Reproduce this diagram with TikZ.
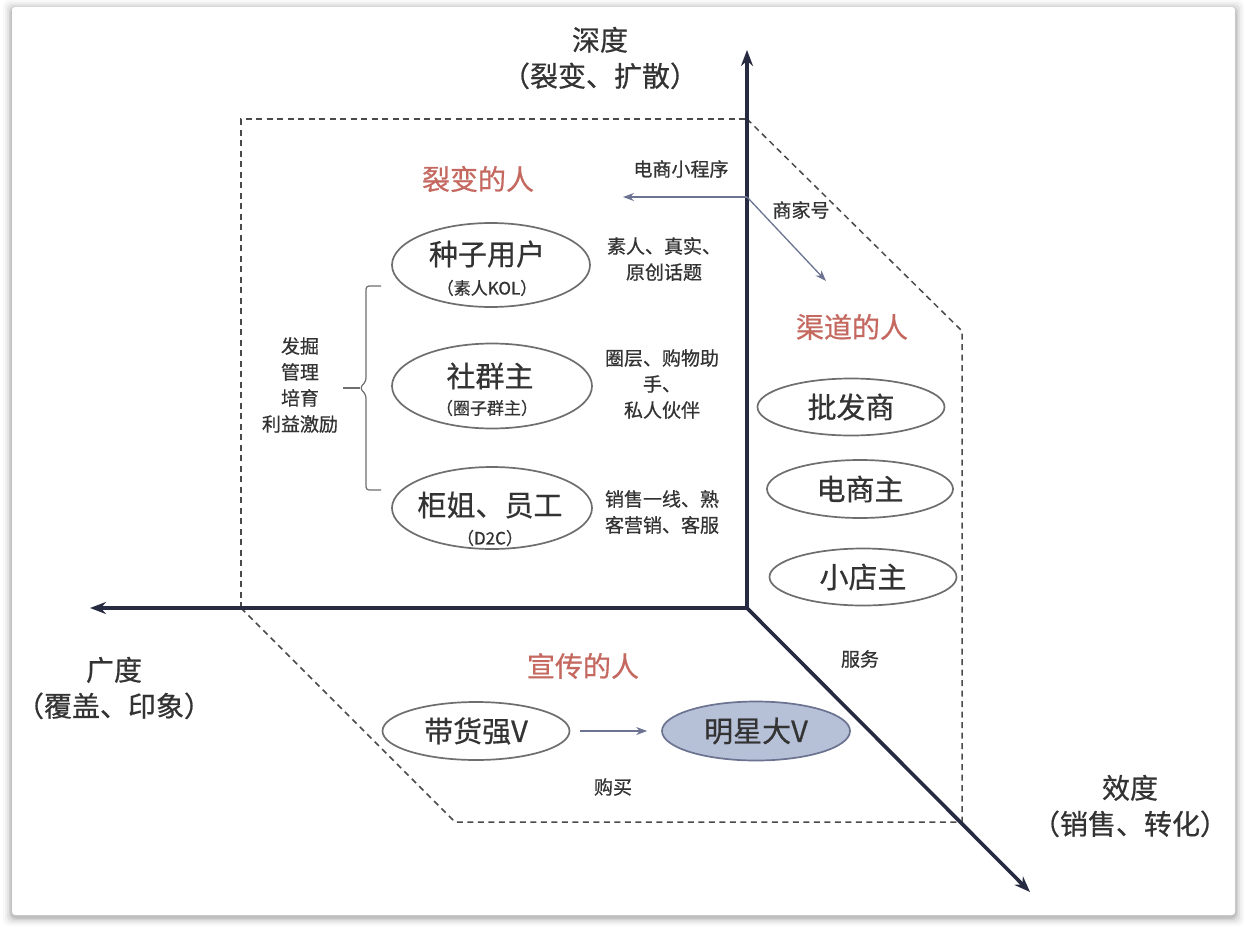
\documentclass[tikz,border=0pt]{standalone}
\usepackage{fontspec}
\setmainfont{Noto Sans CJK SC}
\newfontfamily\medfont{Noto Sans CJK SC}[FakeBold=0.6]
\usetikzlibrary{arrows.meta}
\definecolor{axiscol}{HTML}{272B42}
\definecolor{titlecol}{RGB}{196,104,96}
\definecolor{txtcol}{HTML}{333333}
\definecolor{ovalcol}{HTML}{6E6E6E}
\definecolor{dashcol}{HTML}{4A4A4A}
\definecolor{thincol}{HTML}{6B7390}
\definecolor{starfill}{HTML}{B6C1D8}
\tikzset{
  axisline/.style={draw=axiscol, line width=3.6pt, -{Stealth[length=16pt,width=12pt]}},
  dashline/.style={draw=dashcol, line width=1.5pt, dash pattern=on 6pt off 4.5pt},
  oval/.style={ellipse, draw=ovalcol, line width=1.7pt, inner sep=0pt},
  bigtxt/.style={text=txtcol, font=\medfont\fontsize{29}{31}\selectfont, inner sep=0pt},
  subtxt/.style={text=txtcol, font=\medfont\fontsize{17}{18}\selectfont, inner sep=0pt},
  smalltxt/.style={text=txtcol, font=\medfont\fontsize{19}{26}\selectfont, align=center, inner sep=0pt},
  titletxt/.style={text=titlecol, font=\medfont\fontsize{28}{30}\selectfont, inner sep=0pt},
  axistxt/.style={text=txtcol, font=\medfont\fontsize{28}{36}\selectfont, align=center, inner sep=0pt},
  thinarrow/.style={draw=thincol, line width=1.3pt, -{Stealth[length=11pt,width=8pt]}},
}
\usetikzlibrary{shapes.geometric}
\begin{document}
\begin{tikzpicture}[x=1pt,y=-1pt]
\useasboundingbox (0,0) rectangle (1247,934);
\fill[white] (0,0) rectangle (1247,934);
% card shadow
\foreach \d/\o in {9/0.025,7/0.035,5/0.05,3/0.07,1.5/0.09}{
  \fill[black, opacity=\o, rounded corners=6pt] (12-\d,7-\d+2) rectangle (1235+\d,915+\d+2);
}
\fill[white, rounded corners=3pt] (12,7) rectangle (1235,915);

% coordinates
\coordinate (O) at (747,608);
\coordinate (ytip) at (747,50);
\coordinate (xtip) at (90,608);
\coordinate (ztip) at (1030,892);
\coordinate (boxTL) at (241,119);
\coordinate (boxTR) at (747,119);
\coordinate (boxBL) at (241,608);
\coordinate (rA) at (962,331);
\coordinate (rB) at (962,822);
\coordinate (bA) at (455,822);

% dashed planes
\draw[dashline] (boxBL) -- (boxTL) -- (boxTR);
\draw[dashline] (boxTR) -- (rA) -- (rB);
\draw[dashline] (boxBL) -- (bA) -- (rB);

% axes
\draw[axisline] (O) -- (ytip);
\draw[axisline] (O) -- (xtip);
\draw[axisline] (O) -- (ztip);

% axis labels
\node[axistxt] (ylab) at (600,58) {深度\\（裂变、扩散）};
\node[axistxt] (xlab) at (114,688) {广度\\（覆盖、印象）};
\node[axistxt] (zlab) at (1130,806) {效度\\（销售、转化）};

% titles
\node[titletxt] (t1) at (478,179) {裂变的人};
\node[titletxt] (t2) at (852,327) {渠道的人};
\node[titletxt] (t3) at (583,666) {宣传的人};

% left ellipses
\node[oval, minimum width=198pt, minimum height=84pt] (seed) at (491,265) {};
\node[bigtxt] (seedT) at (487,254) {种子用户};
\node[subtxt] (seedS) at (487,288) {（素人KOL）};
\node[oval, minimum width=200pt, minimum height=85pt] (comm) at (492,386) {};
\node[bigtxt] (commT) at (490,376) {社群主};
\node[subtxt] (commS) at (487,408) {（圈子群主）};
\node[oval, minimum width=200pt, minimum height=82pt] (staff) at (492,508) {};
\node[bigtxt] (staffT) at (490,505) {柜姐、员工};
\node[subtxt] (staffS) at (490,538) {（D2C）};

% bracket
\coordinate (brT) at (381,286);
\coordinate (brB) at (381,490);
\coordinate (brM) at (343,388);
\draw[draw=ovalcol, line width=1.2pt, rounded corners=3pt]
  (brT) -- (366,286) -- (366,381) -- (360,388) -- (366,395) -- (366,490) -- (brB);
\draw[draw=ovalcol, line width=1.2pt] (brM) -- (360,388);
\node[smalltxt] (mgmt) at (300,385) {发掘\\管理\\培育\\利益激励};

% right side texts
\node[smalltxt] (t_seed) at (664,259) {素人、真实、\\原创话题};
\node[smalltxt] (t_comm) at (662,384) {圈层、购物助\\手、\\私人伙伴};
\node[smalltxt] (t_staff) at (662,512) {销售一线、熟\\客营销、客服};

% mini program arrows
\coordinate (mp) at (747,197);
\coordinate (mpL) at (623,197);
\coordinate (mpR) at (826,281);
\draw[thinarrow] (mp) -- (mpL);
\draw[thinarrow] (mp) -- (mpR);
\node[smalltxt] (mini) at (681,169) {电商小程序};
\node[smalltxt] (shop) at (801,210) {商家号};

% channel ellipses
\node[oval, minimum width=187pt, minimum height=57pt, bigtxt] (c1) at (851,407) {批发商};
\node[oval, minimum width=186pt, minimum height=58pt, bigtxt] (c2) at (860,489) {电商主};
\node[oval, minimum width=187pt, minimum height=57pt, bigtxt] (c3) at (863,577) {小店主};
\node[smalltxt] (serv) at (860,659) {服务};

% bottom
\node[oval, minimum width=187pt, minimum height=58pt, bigtxt] (kol) at (476,731) {带货强V};
\node[oval, minimum width=188pt, minimum height=59pt, bigtxt, fill=starfill, draw=thincol] (star) at (756,731) {明星大V};
\draw[thinarrow, shorten <=10pt, shorten >=14pt] (kol) -- (star);
\node[smalltxt] (buy) at (613,787) {购买};
\end{tikzpicture}
\end{document}
